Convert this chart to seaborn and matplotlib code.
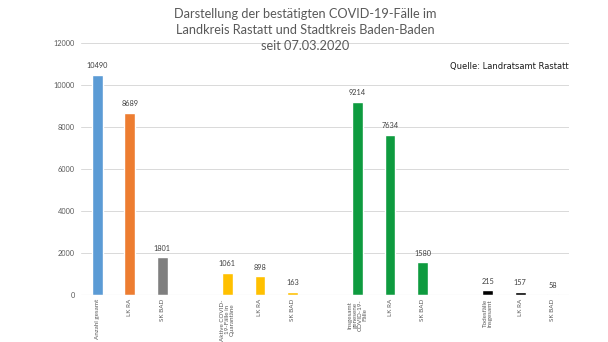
import matplotlib
matplotlib.use("Agg")
import matplotlib.pyplot as plt
import seaborn as sns
import numpy as np
import pandas as pd

labels = ["Anzahl gesamt", "LK RA", "SK BAD", "",
          "Aktive COVID-\n19-Fälle in\nQuarantäne", "LK RA", "SK BAD", "",
          "Insgesamt\ngenesene\nCOVID-19-\nFälle", "LK RA", "SK BAD", "",
          "Todesfälle\ninsgesamt", "LK RA", "SK BAD"]
values = [10490, 8689, 1801, np.nan,
          1061, 898, 163, np.nan,
          9214, 7634, 1580, np.nan,
          215, 157, 58]
colors = ["#5B9BD5", "#ED7D31", "#7F7F7F", "#FFFFFF",
          "#FFC000", "#FFC000", "#FFC000", "#FFFFFF",
          "#0E9B3F", "#0E9B3F", "#0E9B3F", "#FFFFFF",
          "#000000", "#000000", "#000000"]

df = pd.DataFrame({"pos": [str(i) for i in range(len(labels))],
                   "value": values})

sns.set_theme(style="white")
plt.rcParams['font.family'] = ['Lato', 'DejaVu Sans']

fig = plt.figure(figsize=(6.08, 3.42), dpi=100)
ax = fig.add_axes([81/608, 1 - 295/342, (569 - 81)/608, (295 - 43)/342])

sns.barplot(data=df, x="pos", y="value", hue="pos", palette=colors,
            width=0.33, dodge=False, legend=False, ax=ax, saturation=1)

ax.set_ylim(0, 12000)
ax.set_xlim(-0.5, len(labels) - 0.5)
ax.set_yticks(range(0, 12001, 2000))
ax.set_yticklabels([str(v) for v in range(0, 12001, 2000)], fontsize=5.3, color="#595959")
ax.yaxis.grid(True, color="#D9D9D9", linewidth=0.7)
ax.set_axisbelow(True)
for s in ax.spines.values():
    s.set_visible(False)
ax.axhline(0, color="#D9D9D9", linewidth=0.8)
ax.tick_params(axis="y", length=0, pad=4.5)
ax.set_xticks(range(len(labels)))
ax.set_xticklabels(labels, rotation=90, fontsize=4.5, color="#595959",
                   va="top", ha="center", linespacing=1.0,
                   multialignment="center")
ax.tick_params(axis="x", length=0, pad=3.0)
ax.set_xlabel("")
ax.set_ylabel("")

for i, v in enumerate(values):
    if not np.isnan(v):
        ax.text(i, v + 250, str(int(v)), ha="center", va="bottom",
                fontsize=5.3, color="#404040")

fig.text(0.502, 0.976, "Darstellung der bestätigten COVID-19-Fälle im\n"
         "Landkreis Rastatt und Stadtkreis Baden-Baden\nseit 07.03.2020",
         ha="center", va="top", fontsize=9.2, color="#595959", linespacing=1.38)
fig.text(0.936, 0.805, "Quelle: Landratsamt Rastatt", ha="right", va="center",
         fontsize=6.0, color="#1A1A1A", family=["DejaVu Sans"])

fig.savefig("out.png", dpi=100)
